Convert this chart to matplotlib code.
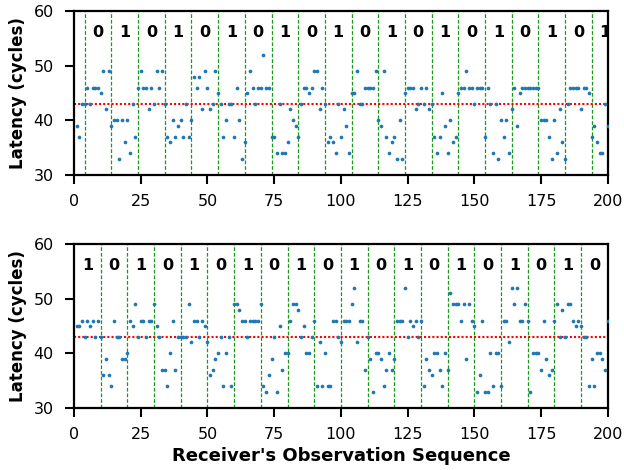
import matplotlib
matplotlib.use("Agg")
import matplotlib.pyplot as plt

# ---------------- data ----------------
top_latency = [
    39, 37, 43, 43, 46, 43, 46, 46, 46, 45,
    49, 42, 49, 39, 40, 40, 33, 40, 36, 40,
    34, 43, 37, 46, 49, 46, 46, 42, 46, 43,
    49, 46, 49, 43, 37, 36, 40, 37, 39, 40,
    37, 43, 37, 40, 48, 46, 48, 42, 49, 46,
    42, 43, 49, 45, 43, 37, 40, 43, 43, 37,
    46, 40, 33, 36, 45, 49, 46, 43, 46, 46,
    52, 46, 46, 37, 37, 34, 43, 34, 34, 36,
    42, 40, 39, 37, 43, 46, 46, 45, 46, 49,
    49, 42, 46, 43, 36, 37, 36, 34, 43, 37,
    42, 39, 34, 45, 45, 49, 43, 43, 46, 46,
    46, 46, 49, 40, 39, 49, 37, 34, 36, 37,
    33, 40, 33, 45, 46, 46, 46, 42, 43, 46,
    43, 46, 42, 43, 37, 34, 37, 45, 39, 34,
    40, 36, 37, 45, 46, 46, 49, 46, 46, 43,
    46, 46, 46, 37, 46, 43, 34, 43, 33, 40,
    37, 40, 34, 42, 46, 39, 45, 46, 46, 46,
    46, 46, 46, 46, 40, 40, 40, 37, 33, 40,
    34, 42, 36, 33, 43, 46, 46, 46, 46, 42,
    46, 46, 45, 37, 39, 36, 34, 34, 43, 39,
]
bottom_latency = [
    45, 45, 46, 43, 46, 45, 46, 43, 46, 43,
    36, 39, 36, 34, 46, 43, 43, 39, 39, 40,
    46, 45, 49, 43, 46, 46, 43, 46, 46, 49,
    45, 43, 37, 37, 34, 40, 46, 37, 43, 43,
    43, 43, 49, 42, 46, 46, 43, 46, 45, 42,
    36, 37, 39, 40, 43, 34, 40, 43, 34, 49,
    49, 48, 46, 46, 43, 46, 46, 46, 46, 49,
    34, 33, 36, 39, 43, 33, 45, 37, 40, 40,
    46, 49, 49, 48, 43, 45, 40, 40, 43, 46,
    34, 42, 34, 40, 34, 34, 46, 46, 43, 42,
    46, 46, 46, 49, 52, 42, 46, 46, 37, 43,
    39, 33, 40, 40, 39, 34, 37, 40, 37, 39,
    46, 46, 46, 52, 43, 46, 45, 46, 43, 46,
    34, 39, 37, 36, 40, 40, 37, 34, 40, 37,
    51, 49, 49, 49, 46, 49, 39, 49, 46, 45,
    33, 36, 46, 33, 33, 40, 34, 40, 40, 34,
    46, 46, 42, 52, 49, 52, 46, 46, 49, 46,
    33, 40, 40, 40, 37, 46, 39, 36, 37, 46,
    49, 43, 48, 43, 49, 49, 46, 45, 46, 45,
    43, 43, 34, 39, 34, 40, 40, 39, 37, 46,
]
observation = list(range(1, 201))
threshold = 43

top_boundaries = [4, 14, 24, 34, 44, 54, 64, 74, 84, 94,
                  104, 114, 124, 134, 144, 154, 164, 174, 184, 194]
bottom_boundaries = [10, 20, 30, 40, 50, 60, 70, 80, 90, 100,
                     110, 120, 130, 140, 150, 160, 170, 180, 190]

top_bit_pos = [9, 19, 29, 39, 49, 59, 69, 79, 89, 99,
               109, 119, 129, 139, 149, 159, 169, 179, 189, 199]
top_bits = ["0", "1", "0", "1", "0", "1", "0", "1", "0", "1",
            "0", "1", "0", "1", "0", "1", "0", "1", "0", "1"]
bottom_bit_pos = [5, 15, 25, 35, 45, 55, 65, 75, 85, 95,
                  105, 115, 125, 135, 145, 155, 165, 175, 185, 195]
bottom_bits = ["1", "0", "1", "0", "1", "0", "1", "0", "1", "0",
               "1", "0", "1", "0", "1", "0", "1", "0", "1", "0"]

x_ticks = [0, 25, 50, 75, 100, 125, 150, 175, 200]
y_ticks = [30, 40, 50, 60]

# ---------------- plot ----------------
plt.rcParams['font.family'] = ['DejaVu Sans']
fig = plt.figure(figsize=(6.24, 4.70), dpi=100)
ax_top = fig.add_axes([0.1186, 0.6277, 0.8554, 0.3489])
ax_bot = fig.add_axes([0.1186, 0.1319, 0.8554, 0.3489])

panels = [
    (ax_top, top_latency, top_boundaries, top_bit_pos, top_bits),
    (ax_bot, bottom_latency, bottom_boundaries, bottom_bit_pos, bottom_bits),
]

for ax, lat, bounds, bpos, bits in panels:
    ax.scatter(observation, lat, s=7, color='#1f77b4', zorder=3, linewidths=0)
    ax.axhline(threshold, color='red', linestyle=(0, (1, 1)), linewidth=1.5, zorder=2)
    for b in bounds:
        ax.axvline(b, color='#1a9a1a', linestyle=(0, (3, 1.5)), linewidth=0.9, zorder=1)
    for p, t in zip(bpos, bits):
        ax.text(p, 56, t, ha='center', va='center', fontsize=11.5,
                fontweight='bold', clip_on=True)
    ax.set_xlim(0, 200)
    ax.set_ylim(30, 60)
    ax.set_xticks(x_ticks)
    ax.set_yticks(y_ticks)
    ax.tick_params(axis='both', labelsize=11.5, width=1.5, length=6.5)
    ax.tick_params(axis='x', pad=7)
    ax.tick_params(axis='y', pad=8)
    for sp in ax.spines.values():
        sp.set_linewidth(1.6)
    ax.set_ylabel('Latency (cycles)', fontsize=12, fontweight='bold', labelpad=5)

ax_bot.set_xlabel("Receiver's Observation Sequence", fontsize=13,
                  fontweight='bold', labelpad=4)

fig.savefig('out.png', dpi=100)
